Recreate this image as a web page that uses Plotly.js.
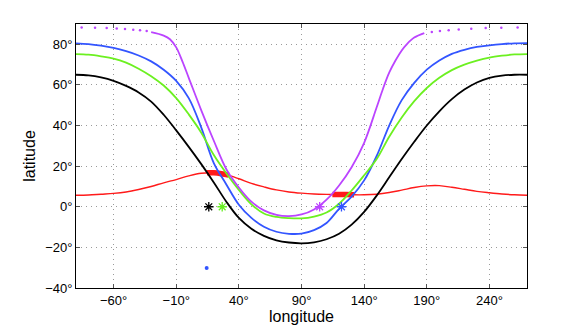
<!DOCTYPE html>
<html>
<head>
<meta charset="utf-8">
<script src="https://cdn.plot.ly/plotly-3.0.1.min.js"></script>
<style>
  html, body { margin: 0; padding: 0; background: #fff; }
  #chart { width: 581px; height: 329px; }
</style>
</head>
<body>
<div id="chart"></div>
<script>
// curves every 10 degrees of longitude
var lon10 = [-90,-80,-70,-60,-50,-40,-30,-20,-10,0,10,20,30,40,50,60,70,80,90,100,110,120,130,140,150,160,170,180,190,200,210,220,230,240,250,260,270];

var blackLat = [65,64.7,63.7,62,59.5,56.3,51.8,45.3,37.6,29.5,21,12,2.5,-5.5,-10.8,-14.3,-16.5,-17.6,-18,-17.5,-16,-13.3,-8.8,-2.5,5.5,14.5,23.5,32,40,47,53,57.7,61.2,63.5,64.6,65,65];

var blueLat = [80.5,80.1,79.3,78.2,76.6,74.5,71.6,67.5,62,53.5,39,21.5,11,1,-5.5,-9.8,-12.3,-13.3,-13.2,-11.5,-8,-1,5,13,25,40,52.5,61,67.5,72,75.3,77.3,78.7,79.5,80.1,80.5,80.6];

var greenLat = [75.2,74.9,74.1,73,71,68,64.3,59.7,53.5,45.5,36.5,25.5,16.5,8.3,1.2,-3.3,-5,-5.6,-5.7,-4.8,-2.8,1.5,8,15.5,23.5,34.5,44,52,58.5,63.5,67.3,70,72,73.5,74.4,75,75.2];

// the purple curve is only drawn as a line where it is steep
var purpleLon = [-30,-20,-15,-10,-5,0,10,20,30,40,50,60,70,80,90,100,110,120,130,140,150,155,160,165,170,174,180,188];
var purpleLat = [86,84.3,82.5,78.5,71.5,63.5,47.5,32.5,18.5,9.5,2.5,-1.8,-4,-4.6,-3.8,-1.3,3.5,10.5,19.5,31.5,49,58,66,72,77,80,83.3,85.5];

// sparse dots where the purple curve flattens out near the top
var purpleDotLon = [-85.5,-74.8,-65.5,-57.5,-50.9,-44.3,-38.9,-33.6,194,200.5,207.5,215.5,225.5,237,249.5,262.5];
var purpleDotLat = [88.3,88.2,88,87.8,87.5,87.2,86.9,86.5,86,86.5,86.9,87.3,87.7,88,88.2,88.3];

var redLat = [5.7,5.8,6.2,6.6,7.3,8.5,10,11.8,13.4,15.2,16.5,16.7,15.8,13.8,11.5,9.8,8.3,7.3,6.7,6.3,6.1,6,5.9,5.9,6.2,7,8.2,9.5,10.3,10.4,9.6,8.6,7.6,6.9,6.3,5.9,5.7];

// thick red pieces lying on the red curve
var redThickLonA = [14.5,20,26,32];
var redThickLatA = [16.7,16.7,16.3,15.6];
var redThickLonB = [114.7,120,126,132];
var redThickLatB = [6.1,6,6,5.9];

// star markers on the equator, and the lone blue dot
var starLon = [16, 26.7, 104.5, 121.9];
var starLat = [0, 0, 0, 0];
var starColor = ["#000000", "#66ee22", "#bb44ff", "#3355ff"];
var dotLon = [14.3];
var dotLat = [-30.2];

var cBlack = "#000000", cBlue = "#3355ff", cGreen = "#6cf020", cPurple = "#bb44ff", cRed = "#ff1a1a";

function curve(x, y, color, w) {
  return { x: x, y: y, type: "scatter", mode: "lines",
    line: { color: color, width: w, shape: "spline", smoothing: 1 }, hoverinfo: "skip" };
}

var data = [
  curve(lon10, redLat, cRed, 1.4),
  curve(redThickLonA, redThickLatA, cRed, 5.5),
  curve(redThickLonB, redThickLatB, cRed, 5.5),
  curve(lon10, blackLat, cBlack, 1.8),
  curve(lon10, blueLat, cBlue, 1.8),
  curve(lon10, greenLat, cGreen, 1.8),
  curve(purpleLon, purpleLat, cPurple, 1.8),
  { x: purpleDotLon, y: purpleDotLat, type: "scatter", mode: "markers",
    marker: { color: cPurple, size: 2.5 } },
  { x: starLon, y: starLat, type: "scatter", mode: "markers",
    marker: { symbol: "asterisk-open", size: 8, color: starColor, line: { color: starColor, width: 1.3 } } },
  { x: dotLon, y: dotLat, type: "scatter", mode: "markers",
    marker: { color: cBlue, size: 4 } }
];

var axisFont = { family: "Liberation Sans, Arial, sans-serif", size: 13, color: "#000" };
var titleFont = { family: "Liberation Sans, Arial, sans-serif", size: 16, color: "#000" };

var layout = {
  width: 581,
  height: 329,
  margin: { l: 76, r: 54, t: 24, b: 41 },
  showlegend: false,
  paper_bgcolor: "#fff",
  plot_bgcolor: "#fff",
  font: axisFont,
  xaxis: {
    range: [-90, 270],
    tick0: -60, dtick: 50,
    ticksuffix: "°",
    showgrid: true, gridcolor: "#9a9a9a", griddash: "1px,4px", gridwidth: 1,
    zeroline: false,
    showline: true, linecolor: "#000", linewidth: 1, mirror: "ticks",
    ticks: "inside", ticklen: 4, tickcolor: "#555",
    tickfont: axisFont,
    title: { text: "longitude", font: titleFont, standoff: 4 }
  },
  yaxis: {
    range: [-40, 90],
    tick0: -40, dtick: 20,
    ticksuffix: "°",
    showgrid: true, gridcolor: "#9a9a9a", griddash: "1px,4px", gridwidth: 1,
    zeroline: false,
    showline: true, linecolor: "#000", linewidth: 1, mirror: "ticks",
    ticks: "inside", ticklen: 4, tickcolor: "#555",
    tickfont: axisFont,
    title: { text: "latitude", font: titleFont, standoff: 5 }
  }
};

Plotly.newPlot("chart", data, layout, { displayModeBar: false, staticPlot: true });
</script>
</body>
</html>
